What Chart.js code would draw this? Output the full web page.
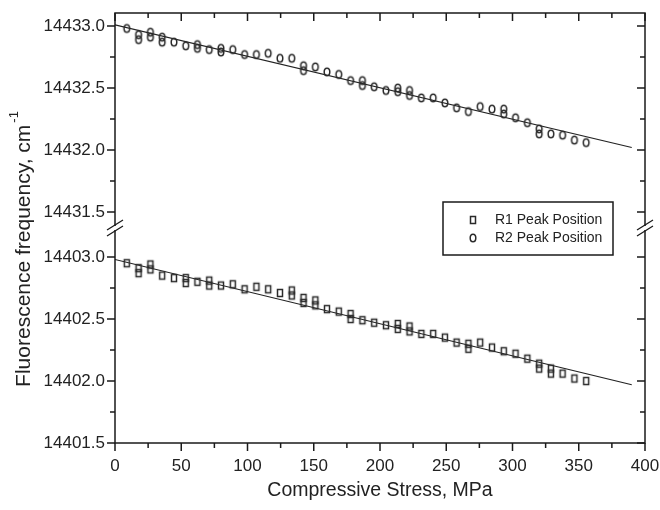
<!DOCTYPE html>
<html lang="en">
<head>
  <meta charset="UTF-8" />
  <title>Fluorescence frequency vs stress</title>
  <script src="https://cdn.jsdelivr.net/npm/chart.js"></script>
  <style>
    body { margin: 0; background: #fff; }
    canvas { display: block; }
  </style>
</head>
<body>
  <canvas id="chart" width="660" height="510"></canvas>
  <script>
// stress steps (MPa)
const stress = [8.9, 17.8, 26.7, 35.6, 44.5, 53.4, 62.2, 71.1, 80.0, 88.9,
  97.8, 106.7, 115.6, 124.5, 133.4, 142.3, 151.2, 160.0, 168.9, 177.8,
  186.7, 195.6, 204.5, 213.4, 222.3, 231.2, 240.1, 249.0, 257.8, 266.7,
  275.6, 284.5, 293.4, 302.3, 311.2, 320.1, 329.0, 337.8, 346.7, 355.6];

// R1 peak position, first and repeated reading (cm-1)
const r1 = [14402.95, 14402.91, 14402.94, 14402.85, 14402.83, 14402.83, 14402.80, 14402.81, 14402.77, 14402.78,
  14402.74, 14402.76, 14402.74, 14402.71, 14402.73, 14402.67, 14402.65, 14402.58, 14402.56, 14402.54,
  14402.49, 14402.47, 14402.45, 14402.46, 14402.44, 14402.38, 14402.38, 14402.35, 14402.31, 14402.30,
  14402.31, 14402.27, 14402.24, 14402.22, 14402.18, 14402.14, 14402.10, 14402.06, 14402.02, 14402.00];
const r1Repeat = [null, 14402.87, 14402.90, null, null, 14402.79, null, 14402.77, null, null,
  null, null, null, null, 14402.69, 14402.63, 14402.61, null, null, 14402.50,
  null, null, null, 14402.42, 14402.40, null, null, null, null, 14402.26,
  null, null, null, null, null, 14402.10, 14402.06, null, null, null];

// R2 peak position
const r2 = [14432.98, 14432.93, 14432.95, 14432.91, 14432.87, 14432.84, 14432.85, 14432.81, 14432.82, 14432.81,
  14432.77, 14432.77, 14432.78, 14432.74, 14432.74, 14432.68, 14432.67, 14432.63, 14432.61, 14432.56,
  14432.56, 14432.51, 14432.48, 14432.50, 14432.48, 14432.42, 14432.42, 14432.38, 14432.34, 14432.31,
  14432.35, 14432.33, 14432.33, 14432.26, 14432.22, 14432.17, 14432.13, 14432.12, 14432.08, 14432.06];
const r2Repeat = [null, 14432.89, 14432.91, 14432.87, null, null, 14432.82, null, 14432.79, null,
  null, null, null, null, null, 14432.64, null, null, null, null,
  14432.52, null, null, 14432.47, 14432.44, null, null, null, null, null,
  null, null, 14432.29, null, null, 14432.13, null, null, null, null];

// linear fits
const fitStress = [0, 390];
const fitR1 = [14402.98, 14401.97];
const fitR2 = [14433.01, 14432.02];

// ticks
const xMajor = [0, 50, 100, 150, 200, 250, 300, 350, 400];
const xMinor = [25, 75, 125, 175, 225, 275, 325, 375];
const yTopMajor = [14431.5, 14432.0, 14432.5, 14433.0];
const yTopMinor = [14431.75, 14432.25, 14432.75];
const yBotMajor = [14401.5, 14402.0, 14402.5, 14403.0];
const yBotMinor = [14401.75, 14402.25, 14402.75];

const FONT = '"Liberation Sans", Arial, sans-serif';
const INK = '#222';

function marker(kind) {
  const c = document.createElement('canvas');
  c.width = 10; c.height = 12;
  const g = c.getContext('2d');
  g.strokeStyle = '#2a2a2a';
  g.lineWidth = 1.5;
  if (kind === 'oval') {
    g.beginPath();
    g.ellipse(5, 6, 2.8, 3.8, 0, 0, Math.PI * 2);
    g.stroke();
  } else {
    g.strokeRect(2.5, 2.5, 5, 7);
  }
  return c;
}
const squareMark = marker('square');
const ovalMark = marker('oval');

function points(ys, rep) {
  const pts = stress.map((x, i) => ({ x: x, y: ys[i] }));
  stress.forEach((x, i) => { if (rep[i] !== null) pts.push({ x: x, y: rep[i] }); });
  return pts;
}
function fit(ys) {
  return fitStress.map((x, i) => ({ x: x, y: ys[i] }));
}

const decor = {
  id: 'decor',
  afterDraw(chart) {
    const { ctx, chartArea: a, scales } = chart;
    ctx.save();
    ctx.strokeStyle = '#1a1a1a';
    ctx.lineWidth = 1.5;
    ctx.strokeRect(a.left, a.top, a.right - a.left, a.bottom - a.top);

    ctx.beginPath();
    const xs = scales.x;
    const xt = (vals, len) => vals.forEach(v => {
      const p = xs.getPixelForValue(v);
      ctx.moveTo(p, a.bottom); ctx.lineTo(p, a.bottom + len);
      ctx.moveTo(p, a.top); ctx.lineTo(p, a.top + len);
    });
    xt(xMajor, 8); xt(xMinor, 5);
    const yt = (sc, vals, len) => vals.forEach(v => {
      const p = sc.getPixelForValue(v);
      ctx.moveTo(a.left, p); ctx.lineTo(a.left - len, p);
      ctx.moveTo(a.right, p); ctx.lineTo(a.right - len, p);
    });
    yt(scales.yTop, yTopMajor, 8); yt(scales.yTop, yTopMinor, 5);
    yt(scales.yBot, yBotMajor, 8); yt(scales.yBot, yBotMinor, 5);
    ctx.stroke();

    // axis break marks
    const by = scales.yBot.top;
    [a.left, a.right].forEach(bx => {
      ctx.fillStyle = '#fff';
      ctx.fillRect(bx - 2, by - 2, 4, 4);
      ctx.beginPath();
      ctx.lineWidth = 1.3;
      [-3, 3].forEach(d => {
        ctx.moveTo(bx - 8, by + d + 5);
        ctx.lineTo(bx + 8, by + d - 5);
      });
      ctx.stroke();
    });

    // legend
    ctx.lineWidth = 1.5;
    ctx.strokeStyle = '#1a1a1a';
    ctx.strokeRect(443, 202, 170, 53);
    ctx.drawImage(squareMark, 468, 214);
    ctx.drawImage(ovalMark, 468, 232);
    ctx.fillStyle = INK;
    ctx.font = '14px ' + FONT;
    ctx.textBaseline = 'middle';
    ctx.textAlign = 'left';
    ctx.fillText('R1 Peak Position', 495, 220);
    ctx.fillText('R2 Peak Position', 495, 238);

    // axis titles
    ctx.font = '19.5px ' + FONT;
    ctx.textAlign = 'center';
    ctx.fillText('Compressive Stress, MPa', (a.left + a.right) / 2, 491);

    ctx.translate(24, 249);
    ctx.rotate(-Math.PI / 2);
    const main = 'Fluorescence frequency, cm';
    ctx.font = '21px ' + FONT;
    const w1 = ctx.measureText(main).width;
    ctx.font = '13px ' + FONT;
    const w2 = ctx.measureText('-1').width;
    const start = -(w1 + w2 + 2) / 2;
    ctx.textAlign = 'left';
    ctx.fillText('-1', start + w1 + 2, -10);
    ctx.font = '21px ' + FONT;
    ctx.fillText(main, start, 0);
    ctx.restore();
  }
};

const tickFont = { family: FONT, size: 17 };

new Chart(document.getElementById('chart'), {
  type: 'scatter',
  data: {
    datasets: [
      { label: 'R1 Peak Position', data: points(r1, r1Repeat), yAxisID: 'yBot',
        pointStyle: squareMark, pointRadius: 4 },
      { label: 'R2 Peak Position', data: points(r2, r2Repeat), yAxisID: 'yTop',
        pointStyle: ovalMark, pointRadius: 4 },
      { label: 'fit R1', data: fit(fitR1), yAxisID: 'yBot', showLine: true,
        borderColor: '#222', borderWidth: 1.2, pointRadius: 0 },
      { label: 'fit R2', data: fit(fitR2), yAxisID: 'yTop', showLine: true,
        borderColor: '#222', borderWidth: 1.2, pointRadius: 0 }
    ]
  },
  options: {
    responsive: false,
    animation: false,
    layout: { padding: { left: 0, top: 13, right: 15, bottom: 0 } },
    plugins: { legend: { display: false }, tooltip: { enabled: false } },
    scales: {
      x: {
        type: 'linear', min: 0, max: 400,
        grid: { display: false, drawTicks: false },
        border: { display: false },
        afterFit: s => { s.height = 67; s.paddingLeft = 0; s.paddingRight = 0; },
        afterBuildTicks: s => { s.ticks = xMajor.map(v => ({ value: v })); },
        ticks: { font: tickFont, color: INK, padding: 13, maxRotation: 0, callback: v => String(v) }
      },
      yTop: {
        type: 'linear', position: 'left', stack: 'y', stackWeight: 1, weight: 2,
        min: 14431.371, max: 14433.105,
        grid: { display: false, drawTicks: false },
        border: { display: false },
        afterFit: s => { s.width = 115; s.paddingTop = 0; s.paddingBottom = 0; },
        afterBuildTicks: s => { s.ticks = yTopMajor.map(v => ({ value: v })); },
        ticks: { font: tickFont, color: INK, padding: 10, callback: v => v.toFixed(1) }
      },
      yBot: {
        type: 'linear', position: 'left', stack: 'y', stackWeight: 1, weight: 1,
        min: 14401.5, max: 14403.234,
        grid: { display: false, drawTicks: false },
        border: { display: false },
        afterFit: s => { s.width = 115; s.paddingTop = 0; s.paddingBottom = 0; },
        afterBuildTicks: s => { s.ticks = yBotMajor.map(v => ({ value: v })); },
        ticks: { font: tickFont, color: INK, padding: 10, callback: v => v.toFixed(1) }
      }
    }
  },
  plugins: [decor]
});
  </script>
</body>
</html>
